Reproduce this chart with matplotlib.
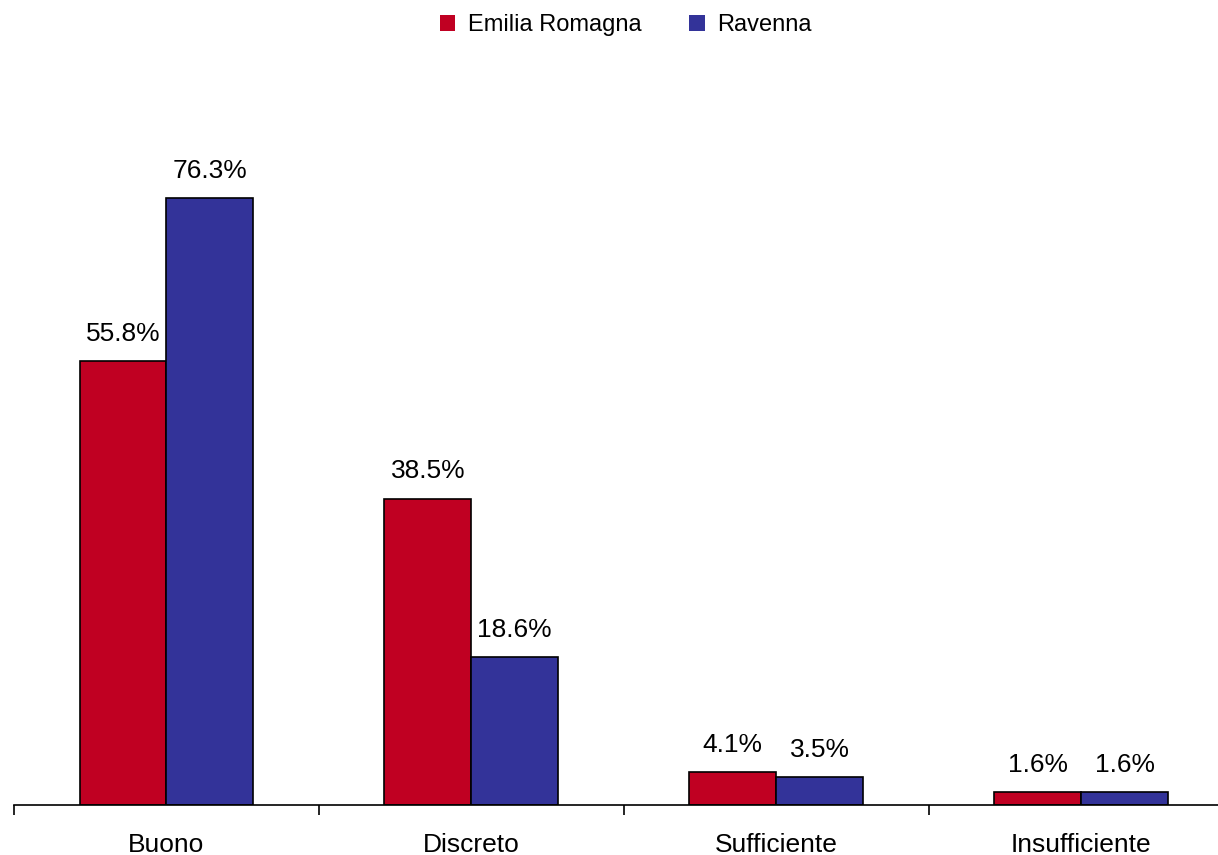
import numpy as np
import matplotlib.pyplot as plt
from matplotlib.patches import Patch

categories = ['Buono', 'Discreto', 'Sufficiente', 'Insufficiente']
emilia = [55.8, 38.5, 4.1, 1.6]
ravenna = [76.3, 18.6, 3.5, 1.6]
series = ['Emilia Romagna', 'Ravenna']
colors = ['#C00022', '#333399']

plt.rcParams['font.family'] = ['Liberation Sans', 'DejaVu Sans']

W, H = 1218, 855
fig = plt.figure(figsize=(W / 100, H / 100), dpi=100)
# axes spans past the right edge like the original
left, right = 14, 1233.5
bottom, top = 805, 89
ax = fig.add_axes([left / W, (H - bottom) / H, (right - left) / W, (bottom - top) / H])

x = np.arange(len(categories))
w = 0.285
b1 = ax.bar(x - w / 2, emilia, w, color=colors[0], edgecolor='black', linewidth=1.2)
b2 = ax.bar(x + w / 2, ravenna, w, color=colors[1], edgecolor='black', linewidth=1.2)

for bars in (b1, b2):
    for rect in bars:
        v = rect.get_height()
        ax.annotate(f'{v:.1f}%', (rect.get_x() + rect.get_width() / 2, v),
                    xytext=(0, 11), textcoords='offset points',
                    ha='center', va='bottom', fontsize=19)

ax.set_xlim(-0.5, 3.5)
ax.set_ylim(0, 90)
ax.set_xticks(x)
ax.set_xticklabels(categories, fontsize=19)
ax.tick_params(axis='x', which='major', length=0, pad=20)
ax.set_xticks(np.arange(-0.5, 3.5, 1), minor=True)
ax.tick_params(axis='x', which='minor', length=7, width=1.2, direction='out')
ax.set_yticks([])
for s in ('left', 'right', 'top'):
    ax.spines[s].set_visible(False)
ax.spines['bottom'].set_linewidth(1.2)

handles = [Patch(facecolor=c, edgecolor='none') for c in colors]
fig.legend(handles, series, loc='upper center', bbox_to_anchor=(0.514, 1.008), ncol=2,
           frameon=False, fontsize=17, handlelength=0.65, handleheight=0.7,
           columnspacing=2.0, handletextpad=0.55)

fig.savefig('out.png', dpi=100)
